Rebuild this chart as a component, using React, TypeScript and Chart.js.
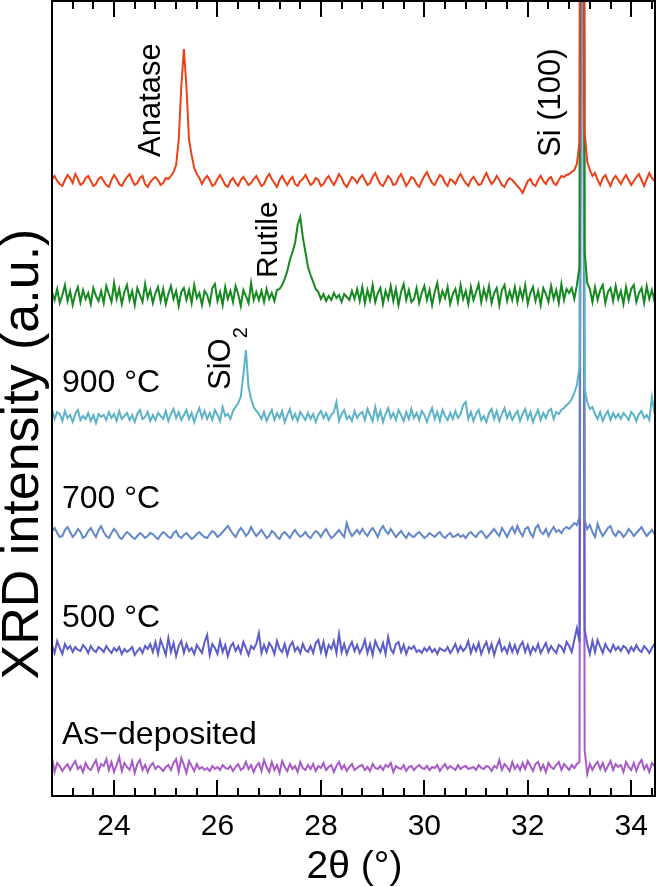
import React, { useEffect, useRef } from "react";
import { Chart, registerables } from "chart.js";

Chart.register(...registerables);

// 2θ grid of the scans (degrees)
const THETA_START = 22.8;
const THETA_STEP = 0.05;
const X_MIN = 22.8;
const X_MAX = 34.46;
const Y_MIN = 0;
const Y_MAX = 795;
const X_TICKS = [24, 26, 28, 30, 32, 34];
const MINOR_STEP = 0.4;

const SAMPLE_LABELS = ["Anatase", "Rutile", "900 °C", "700 °C", "500 °C", "As−deposited"];
const OFFSETS = [614, 499, 379, 261, 146, 28];
const COLORS = ["#ea4218", "#15891f", "#5cb3c8", "#6387cb", "#5c5ccb", "#a95ac9"];

// intensity (a.u.) relative to each trace baseline, one value per 0.05°
const anatase = [
  3, 6, 1, -2, -4, 2, 7, 4, -1, 8, 3, -3, -1, 4, 6, 1, -4, -2, 3, 5,
  1, -3, -5, 2, 7, 3, -2, -4, 1, 5, 8, 2, -3, -1, 4, 6, -2, -5, 0, 3,
  5, 2, -3, -1, 4, 3, 6, 10, 17, 42, 95, 133, 95, 42, 27, 14, 8, 4, -2, 3,
  6, 2, -4, -2, 3, 7, 2, -3, -5, 1, 4, -1, -4, 2, 5, 1, -3, -1, 3, 6,
  1, -4, -2, 4, 8, 3, -1, -5, 2, 6, 1, -3, 2, 5, -2, -4, 1, 3, 7, 2,
  -3, -1, 4, 2, -4, -2, 3, 6, 1, -3, 2, 8, 4, -2, -5, 0, 5, 3, -1, 4,
  7, 2, -3, -1, 5, 9, 3, -2, -4, 1, 6, 3, -3, -2, 4, 8, 2, -4, 0, 5,
  3, -2, -5, 1, 6, 10, 4, -1, -3, 2, 7, 5, -1, -4, 3, 1, -2, 4, 8, 3,
  -1, -4, 2, 5, 1, -3, -2, 4, 9, 3, -2, 1, 6, 2, -3, -5, 1, 4, 2, -1,
  -4, -7, -11, -5, 1, 3, -2, -4, 2, 6, 1, -2, 3, 5, -1, -3, 2, 6, 5, 7,
  8, 10, 12, 18, 40, 1500, 50, 20, 12, 6, 9, 2, -3, 4, 7, 1, -4, 3, 6, 2,
  -2, 3, 7, 2, -3, 1, 5, 8, 2, -4, 3, 9, 4, 1, 6,
];

const rutile = [
  5, -3, 8, -6, 2, 12, -4, 6, -8, 3, 10, -5, 7, -2, 4, -7, 9, 1, -4, 6,
  -6, 11, 3, -5, 14, -2, 8, -7, 5, 12, -3, 6, -8, 9, 2, -5, 13, -1, 7, -6,
  4, 10, -4, 8, -7, 3, 11, -2, 6, -9, 5, 9, -3, 7, -6, 12, -1, 4, -8, 6,
  2, -7, 9, 13, -4, 5, -8, 10, -2, 6, -5, 11, 3, -9, 7, 1, -6, 14, -3, 5,
  -3, 6, -5, 8, -2, 4, -4, 7, 8, 12, 18, 26, 37, 45, 54, 72, 80, 60, 45, 30,
  22, 15, 8, 5, -2, 3, -4, 1, -3, 4, -1, 2, -5, 3, 0, -3, 6, -2, 8, -4,
  10, -6, 7, -3, 12, -5, 4, 9, -7, 6, -2, 11, -4, 8, -8, 5, 13, -3, 7, -5,
  -2, 9, -6, 4, 11, -3, 7, -8, 5, 14, -4, 6, -1, 10, -7, 3, 8, -5, 12, -2,
  6, -7, 10, -3, 5, 13, -5, 8, -2, 11, -6, 4, 9, -8, 7, 12, -4, 6, -3, 10,
  -5, 8, -2, 12, -7, 4, 10, -4, 6, -8, 9, 3, -5, 11, -2, 7, -6, 13, -3, 8,
  4, 9, -2, 12, 30, 1500, 45, 14, 8, -5, 10, -3, 7, 12, -6, 5, 9, -4, 11, -2,
  6, -7, 10, -3, 8, 12, -5, 4, 9, -6, 11, -2, 7, -4, 8,
];

const t900 = [
  8, -2, 5, 3, -4, 6, -1, 2, -5, 3, 7, -3, 1, -2, 4, -4, 2, -6, 3, 0,
  2, -3, 5, -1, 3, -4, 6, -2, 1, 4, -3, 2, -5, 3, 7, -2, 0, 5, -4, 2,
  -3, 4, 1, -2, 6, -4, 3, 8, -1, 5, -3, 2, 7, -2, 4, -5, 3, 9, -1, 6,
  -2, 4, -3, 7, 2, -4, 10, 1, 3, -2, 6, 10, 14, 20, 42, 67, 30, 18, 10, 6,
  3, -2, 5, -4, 2, 7, -3, 4, -1, 6, -5, 2, 8, -2, 3, -4, 5, 1, -3, 4,
  -2, 3, -5, 2, 6, -1, 4, -3, 2, 5, 15, -4, 3, 7, -2, 1, -4, 6, -1, 3,
  5, -3, 8, 2, -4, 10, -2, 6, -5, 3, 9, -1, 4, -3, 7, 2, -4, 5, -2, 8,
  -1, 4, -3, 6, 2, -5, 3, 9, -2, 5, -4, 7, 1, -3, 4, -2, 6, -1, 3, 12,
  15, -2, 5, -4, 3, 7, -3, 1, -5, 4, 8, -2, 6, -4, 3, 9, -1, 5, -3, 2,
  6, -4, 3, 8, -2, 5, -5, 2, 7, -3, 4, -1, 6, 8, -2, 5, 3, 7, 9, 12,
  14, 18, 24, 32, 50, 1500, 28, 15, 8, 10, 3, -2, 5, -4, 2, 6, -3, 4, -1, 3,
  -2, 4, 1, -3, 5, 2, -4, 3, 6, -1, 2, -3, 20, 4, 2,
];

const t700 = [
  4, 7, 2, -2, -1, 5, 8, 3, -2, 1, 6, 3, -3, -1, 4, 7, 2, -2, 5, 9,
  3, -1, -3, 2, 6, 3, -2, -4, 0, 3, 1, -2, -4, -1, 2, 0, -3, -1, 2, 1,
  -2, -4, 0, 3, 1, -2, -3, 2, 4, -1, -3, 0, 2, -1, -4, -2, 1, 3, 0, -2,
  -3, 1, 4, 2, -2, 0, 3, 6, 9, 5, 1, -2, 3, 7, 4, -1, 2, 8, 3, -1,
  2, 5, 1, -3, -1, 4, 2, -2, -4, 1, 3, 0, -3, 2, 5, 1, -2, 0, 3, -1,
  -3, 1, 4, 2, -2, 3, 6, 1, -3, -1, 2, 5, 1, -2, 12, 4, -1, 2, 5, 1,
  6, 2, -1, 4, 7, 3, -2, 5, 9, 4, 1, 6, 2, -2, 1, 4, 0, -3, 2, -1,
  -2, 1, 3, 0, -3, -1, 2, 0, -2, 1, 3, -1, -3, 0, 2, -2, -1, 1, -2, 0,
  -3, 1, 3, 0, -2, 2, 4, 1, -3, 0, 3, 6, 2, -1, 7, 3, -2, 4, 8, 2,
  9, 3, -1, 6, 8, 2, -2, 7, 10, 3, 1, 6, -1, 4, 8, 3, 5, 2, 6, 8,
  6, 9, 12, 10, 18, 1500, 15, 6, 10, 3, -2, 11, 4, -1, 3, 7, 9, 2, -1, 4,
  2, -2, 1, 6, 3, -1, 2, 5, 8, 3, -1, 2, 5, 1, 4,
];

const t500 = [
  5, -3, 9, 2, -4, 6, 1, 4, -2, 3, 0, -1, 5, 2, -3, 4, 0, -2, 3, 1,
  -2, 4, 0, -3, 2, -1, 3, -4, 1, -2, 0, 3, -5, -1, 2, -3, 4, 1, 6, -2,
  8, -4, 10, 3, -5, 12, -2, 7, -6, 4, 9, -3, 6, -1, 2, -4, 5, 1, -3, 8,
  15, -5, 6, 2, -4, 9, -2, 5, -6, 3, 7, -1, 4, -3, 8, 2, -5, 4, 1, 6,
  17, -3, 5, -2, 7, 3, -4, 9, 1, -2, 6, -5, 4, 8, -1, 3, -3, 6, 0, -2,
  4, -3, 7, 10, -2, 8, -5, 5, 1, 9, -3, 16, -2, 6, -4, 3, 8, -1, 5, -3,
  2, 10, -3, 6, -5, 9, 3, -2, 7, -4, 13, 1, -3, 6, 8, -2, 5, -4, 3, 1,
  4, -2, 0, -3, 2, -1, 3, -2, 1, -4, 2, 0, -1, 3, -3, 1, 6, -2, 4, -1,
  2, 9, -3, 5, -1, 7, -4, 3, 8, -2, 6, -5, 4, 10, -1, 3, -3, 6, -2, 5,
  -3, 4, 8, -2, 5, -4, 3, -1, 6, -3, 2, 7, -2, 4, 0, -3, 5, 3, -2, 8,
  4, -2, 10, 22, 8, 1500, 20, 6, -4, 9, -2, 10, 3, -3, 6, 1, -2, 5, 0, 3,
  -1, 4, 2, -3, 3, -1, 5, 0, -2, 4, 1, -3, 2, 6, 3,
];

const asDeposited = [
  10, -4, 5, 2, -3, 1, 4, -2, 3, 7, -1, 2, -4, 5, 0, -2, 3, 8, -3, 4,
  2, 9, -2, 6, -4, 3, 11, -3, 5, 1, -2, 7, -5, 4, 8, -2, 3, -4, 2, 5,
  -1, 2, 0, -3, 1, 3, -2, 5, 9, -4, 10, 3, -5, 7, 2, -3, 4, -1, 1, -2,
  0, -3, 2, -1, 1, -2, 3, 0, -1, 2, -3, 1, 4, -2, 0, 6, -1, 3, -4, 2,
  5, -3, 8, 1, -4, 6, -2, 3, -5, 7, 1, -3, 4, -1, 2, -4, 6, 0, -2, 3,
  -1, 4, -3, 2, 0, 5, -2, 1, 3, -4, 2, 6, -1, 3, -3, 1, 4, -2, 0, 2,
  3, -2, 1, -3, 4, 0, -1, 2, -2, 3, 1, 5, -4, 2, 0, -1, 3, -3, 1, 2,
  -2, 1, 3, 0, -1, 2, -2, 1, 0, 3, -3, 1, 4, -1, 2, 0, -2, 3, -1, 1,
  2, -1, 0, 1, -2, 3, 0, -1, 2, 1, -3, 2, 0, 8, -2, 4, 1, -3, 6, -1,
  3, -2, 5, -1, 7, 2, -3, 4, 6, -2, 3, -4, 5, 1, -1, 3, 6, -2, 4, 1,
  -2, 3, 0, 4, 6, 1500, 18, -6, 4, -2, 3, 6, -1, 5, -3, 2, 7, -2, 4, 1,
  3, -4, 6, 1, -2, 5, -3, 4, 8, -1, 3, -4, 5, 2, -1,
];

const SERIES = [anatase, rutile, t900, t700, t500, asDeposited];

const FONT = "'Liberation Sans', Arial, Helvetica, sans-serif";

const overlayPlugin = {
  id: "overlay",
  afterDraw(chart: any) {
    const ctx = chart.ctx as CanvasRenderingContext2D;
    const { left, right, top, bottom } = chart.chartArea;
    const xs = chart.scales.x;
    ctx.save();
    ctx.strokeStyle = "#000";
    ctx.fillStyle = "#000";

    // ticks (inward, top & bottom)
    ctx.lineWidth = 2;
    for (let k = 0; ; k++) {
      const v = X_MIN + k * MINOR_STEP;
      if (v > X_MAX + 1e-9) break;
      const isMajor = X_TICKS.some((t) => Math.abs(t - v) < 1e-6);
      const len = isMajor ? 16 : 8;
      const px = Math.round(xs.getPixelForValue(v));
      ctx.beginPath();
      ctx.moveTo(px, bottom);
      ctx.lineTo(px, bottom - len);
      ctx.moveTo(px, top);
      ctx.lineTo(px, top + len);
      ctx.stroke();
    }

    // frame
    ctx.lineWidth = 2;
    ctx.strokeRect(left, top, right - left, bottom - top);

    // tick labels
    ctx.font = `30px ${FONT}`;
    ctx.textAlign = "center";
    ctx.textBaseline = "alphabetic";
    X_TICKS.forEach((t) => {
      ctx.fillText(String(t), xs.getPixelForValue(t), 835);
    });

    // axis titles
    ctx.font = `39px ${FONT}`;
    ctx.fillText("2θ (°)", (left + right) / 2 + 1, 878);

    ctx.save();
    ctx.translate(38, 454);
    ctx.rotate(-Math.PI / 2);
    ctx.font = `52px ${FONT}`;
    ctx.textAlign = "center";
    ctx.fillText("XRD intensity (a.u.)", 0, 0);
    ctx.restore();

    // sample labels
    ctx.font = `32px ${FONT}`;
    ctx.textAlign = "left";
    ctx.fillText(SAMPLE_LABELS[2], 62, 392);
    ctx.fillText(SAMPLE_LABELS[3], 62, 508);
    ctx.fillText(SAMPLE_LABELS[4], 62, 627);
    ctx.fillText(SAMPLE_LABELS[5], 62, 744);

    // rotated peak annotations
    const vtext = (txt: string, x: number, y: number, size: number) => {
      ctx.save();
      ctx.translate(x, y);
      ctx.rotate(-Math.PI / 2);
      ctx.font = `${size}px ${FONT}`;
      ctx.textAlign = "left";
      ctx.fillText(txt, 0, 0);
      ctx.restore();
    };
    vtext("Anatase", 160, 157, 31);
    vtext("Rutile", 277, 278, 30);
    vtext("Si (100)", 560, 157, 31);
    vtext("SiO", 230, 390, 31);
    ctx.save();
    ctx.font = `31px ${FONT}`;
    const w = ctx.measureText("SiO").width;
    ctx.restore();
    vtext("2", 247, 390 - w, 20);

    ctx.restore();
  },
};

export default function App() {
  const ref = useRef<HTMLCanvasElement | null>(null);
  useEffect(() => {
    if (!ref.current) return;
    const datasets = SERIES.map((vals, si) => ({
      label: SAMPLE_LABELS[si],
      data: vals.map((v, i) => ({ x: THETA_START + i * THETA_STEP, y: v + OFFSETS[si] })),
      borderColor: COLORS[si],
      borderWidth: 2,
      pointRadius: 0,
      tension: 0,
      fill: false,
    }));
    const chart = new Chart(ref.current, {
      type: "line",
      data: { datasets },
      options: {
        animation: false,
        responsive: false,
        devicePixelRatio: 1,
        layout: { padding: { left: 52, right: 3, top: 1, bottom: 91 } },
        plugins: { legend: { display: false }, tooltip: { enabled: false } },
        scales: {
          x: { type: "linear", min: X_MIN, max: X_MAX, display: false },
          y: { type: "linear", min: Y_MIN, max: Y_MAX, display: false },
        },
      },
      plugins: [overlayPlugin],
    });
    return () => chart.destroy();
  }, []);
  return (
    <div style={{ position: "absolute", left: 0, top: 0, width: 658, height: 887, background: "#fff" }}>
      <canvas ref={ref} width={658} height={887} />
    </div>
  );
}
